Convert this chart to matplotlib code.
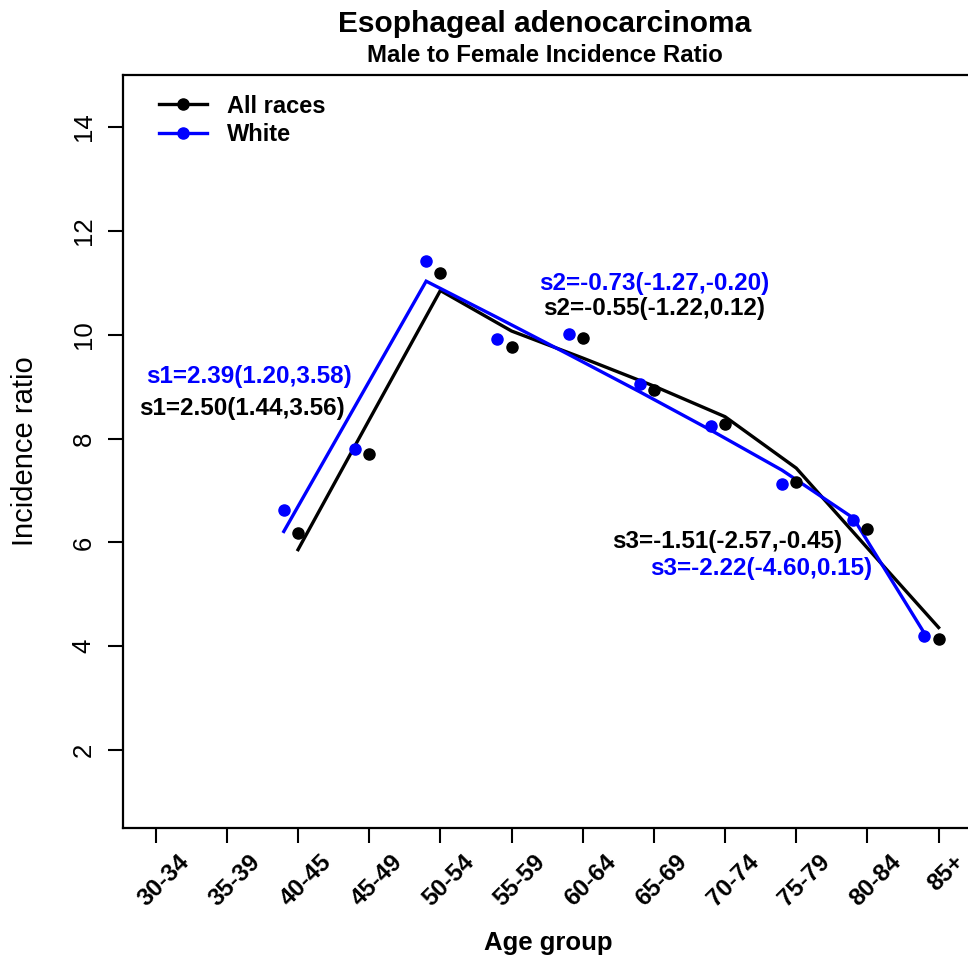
import matplotlib
matplotlib.use("Agg")
import matplotlib.pyplot as plt
import matplotlib.transforms as mtransforms
import numpy as np

plt.rcParams["font.family"] = ["Liberation Sans", "DejaVu Sans"]

# age groups on the x axis
age_groups = ["30-34", "35-39", "40-45", "45-49", "50-54", "55-59",
              "60-64", "65-69", "70-74", "75-79", "80-84", "85+"]

# observed male/female incidence ratio, 40-45 .. 85+
all_obs = [6.19, 7.71, 11.18, 9.76, 9.94, 8.93, 8.28, 7.17, 6.26, 4.14]
white_obs = [6.62, 7.80, 11.42, 9.92, 10.02, 9.05, 8.24, 7.12, 6.44, 4.20]

# joinpoint fitted values
all_fit = [5.86, 8.36, 10.85, 10.07, 9.55, 9.01, 8.42, 7.43, 5.89, 4.36]
white_fit = [6.21, 8.62, 11.03, 10.33, 9.62, 8.90, 8.16, 7.39, 6.47, 4.25]

# slope labels: (x, y, text, colour)
slope_labels = [
    (2.31, 9.19, "s1=2.39(1.20,3.58)", "blue"),
    (2.21, 8.58, "s1=2.50(1.44,3.56)", "black"),
    (8.01, 10.99, "s2=-0.73(-1.27,-0.20)", "blue"),
    (8.01, 10.51, "s2=-0.55(-1.22,0.12)", "black"),
    (9.03, 6.01, "s3=-1.51(-2.57,-0.45)", "black"),
    (9.51, 5.50, "s3=-2.22(-4.60,0.15)", "blue"),
]

x_all = np.arange(3, 13)
x_white = x_all - 0.2

fig = plt.figure(figsize=(9.68, 9.63), dpi=100)
ax = fig.add_axes([0.127, 0.1402, 0.875, 0.7819])

ax.plot(x_all, all_fit, color="black", lw=2.4, solid_joinstyle="miter")
ax.plot(x_white, white_fit, color="#0000ff", lw=2.4, solid_joinstyle="miter")
ax.plot(x_all, all_obs, "o", color="black", ms=8)
ax.plot(x_white, white_obs, "o", color="#0000ff", ms=8)

for x, y, txt, col in slope_labels:
    ax.text(x, y, txt, color=col, fontsize=17.5, fontweight="bold",
            ha="center", va="center")

ax.set_xlim(0.54, 12.44)
ax.set_ylim(0.5, 15.0)

# x tick labels drawn by hand, rotated 45 degrees like R's text(srt=45)
ax.set_xticks(np.arange(1, 13))
ax.set_xticklabels([])
lab_trans = ax.get_xaxis_transform() + mtransforms.ScaledTranslation(
    8 / 100, -22 / 100, fig.dpi_scale_trans)
for i, lab in enumerate(age_groups):
    ax.text(i + 1, 0, lab, transform=lab_trans, rotation=45, ha="center",
            va="top", fontsize=17.5, fontweight="bold")

ax.set_yticks([2, 4, 6, 8, 10, 12, 14])
ax.set_yticklabels(["2", "4", "6", "8", "10", "12", "14"],
                   rotation=90, va="center", fontsize=18.5)

ax.tick_params(axis="both", length=10.5, width=1.5, direction="out")
ax.tick_params(axis="y", pad=9)
for sp in ax.spines.values():
    sp.set_linewidth(1.6)

fig.text(548 / 968, 1 - 943 / 963, "Age group", ha="center", va="center",
         fontsize=18.5, fontweight="bold")
fig.text(25 / 968, 1 - 451 / 963, "Incidence ratio", ha="center",
         va="center", rotation=90, fontsize=21)

# legend
h1, = ax.plot([], [], "-o", color="black", lw=2.4, ms=8)
h2, = ax.plot([], [], "-o", color="#0000ff", lw=2.4, ms=8)
leg = ax.legend([h1, h2], ["All races", "White"], loc="upper left",
                bbox_to_anchor=(0.018, 1.002), frameon=False,
                prop={"size": 17, "weight": "bold"},
                handlelength=2.0, handletextpad=0.85, labelspacing=0.23)

fig.text(0.563, 0.975, "Esophageal adenocarcinoma", ha="center",
         va="center", fontsize=21.5, fontweight="bold")
fig.text(0.563, 0.942, "Male to Female Incidence Ratio", ha="center",
         va="center", fontsize=17.3, fontweight="bold")

fig.savefig("out.png", dpi=100)
